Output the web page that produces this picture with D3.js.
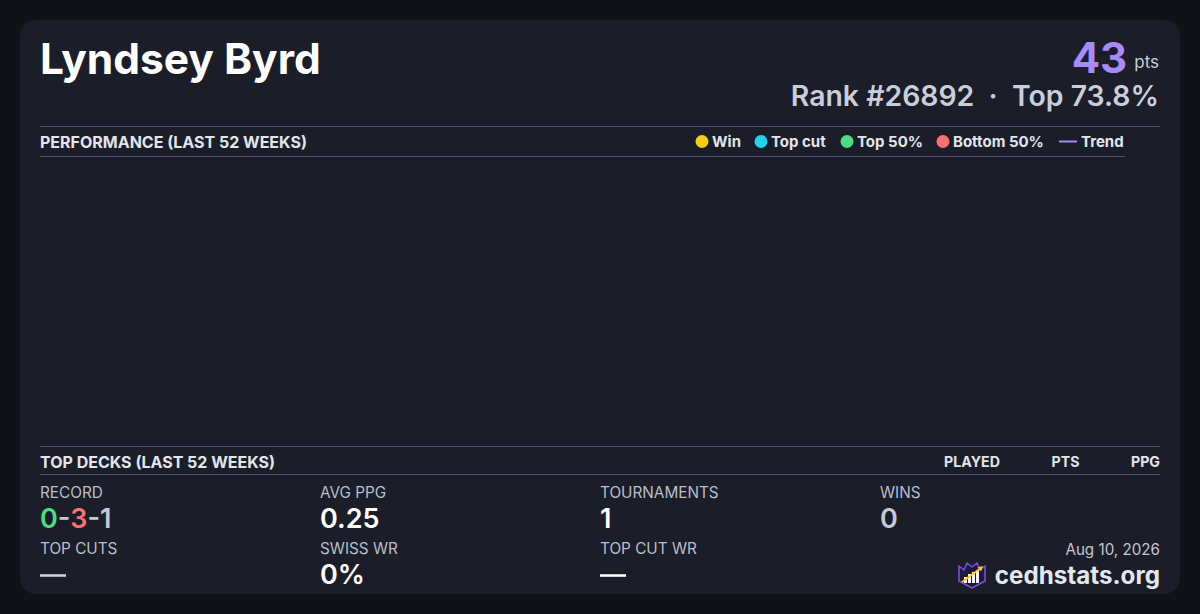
<!DOCTYPE html>
<html><head><meta charset="utf-8">
<script src="https://cdn.jsdelivr.net/npm/d3@7"></script>
<style>
html,body{margin:0;padding:0;background:#111218;}
svg{display:block;font-family:Inter,"Noto Sans",sans-serif;}
</style></head><body>
<svg id="c" width="1200" height="614"></svg>
<script>
// ---- data ----
const playerName = "Lyndsey Byrd";
const points = 43;
const rank = 26892;
const topPct = 73.8;
const legendLabels = ["Win", "Top cut", "Top 50%", "Bottom 50%", "Trend"];
const legendColors = ["#facc15", "#22d3ee", "#4ade80", "#f87171", "#a78bfa"];
const performanceWeeks = [];      // no results plotted in last 52 weeks
const deckColumns = ["PLAYED", "PTS", "PPG"];
const decks = [];
const statLabels = ["RECORD", "AVG PPG", "TOURNAMENTS", "WINS", "TOP CUTS", "SWISS WR", "TOP CUT WR"];
const statValues = ["0-3-1", "0.25", "1", "0", "—", "0%", "—"];
const recordParts = [0, 3, 1];
const dateLabel = "Aug 10, 2026";
const siteLabel = "cedhstats.org";

const svg = d3.select("#c");
svg.append("rect").attr("width",1200).attr("height",614).attr("fill","#111218");
svg.append("rect").attr("x",20).attr("y",20).attr("width",1160).attr("height",574).attr("rx",16).attr("fill","#1b1d29");

// header
svg.append("text").attr("x",40).attr("y",74).attr("fill","#ffffff").attr("font-size",42.5).attr("font-weight",700).text(playerName);
const ptsT = svg.append("text").attr("x",1159).attr("y",73).attr("text-anchor","end");
ptsT.append("tspan").attr("fill","#a78bfa").attr("font-size",42).attr("font-weight",700).text(points);
ptsT.append("tspan").attr("fill","#c9ceda").attr("font-size",17).attr("dx",7).attr("dy",-5).text("pts");
svg.append("text").attr("x",1159).attr("y",106).attr("text-anchor","end").attr("fill","#c9ceda")
  .attr("font-size",28.4).attr("font-weight",600)
  .text(`Rank #${rank}  ·  Top ${topPct}%`).attr("xml:space","preserve");

const lineCol = "#4a5670";
function hline(y,x1,x2){svg.append("line").attr("x1",x1).attr("x2",x2).attr("y1",y+0.5).attr("y2",y+0.5).attr("stroke",lineCol).attr("stroke-width",1);}
hline(126,40,1160);
svg.append("text").attr("x",40).attr("y",147.5).attr("fill","#e2e5ec").attr("font-size",16).attr("font-weight",700).text("PERFORMANCE (LAST 52 WEEKS)");
hline(156,40,1125);

// legend
const legendX = d3.scaleOrdinal().domain(legendLabels).range([702, 761, 847, 943, 1059]);
const color = d3.scaleOrdinal().domain(legendLabels).range(legendColors);
const lg = svg.append("g");
legendLabels.forEach(l=>{
  const x = legendX(l);
  if(l==="Trend"){
    lg.append("line").attr("x1",x).attr("x2",x+18).attr("y1",141.5).attr("y2",141.5).attr("stroke",color(l)).attr("stroke-width",2);
    lg.append("text").attr("x",x+22).attr("y",147).attr("fill","#e2e5ec").attr("font-size",15).attr("font-weight",700).text(l);
  } else {
    lg.append("circle").attr("cx",x).attr("cy",141.5).attr("r",6.5).attr("fill",color(l));
    lg.append("text").attr("x",x+10).attr("y",147).attr("fill","#e2e5ec").attr("font-size",15).attr("font-weight",700).text(l);
  }
});

// performance plot (empty)
const xs = d3.scaleLinear().domain([0,52]).range([40,1160]);
const ys = d3.scaleLinear().domain([0,1]).range([440,165]);
svg.append("g").selectAll("circle").data(performanceWeeks).join("circle")
  .attr("cx",d=>xs(d.week)).attr("cy",d=>ys(d.pct)).attr("r",5).attr("fill",d=>color(d.kind));

// top decks
hline(446,40,1160);
svg.append("text").attr("x",40).attr("y",467.5).attr("fill","#e2e5ec").attr("font-size",16).attr("font-weight",700).text("TOP DECKS (LAST 52 WEEKS)");
const colX = d3.scaleOrdinal().domain(deckColumns).range([1000,1079.5,1160]);
deckColumns.forEach(c=>{
  svg.append("text").attr("x",colX(c)).attr("y",467).attr("text-anchor","end").attr("fill","#e2e5ec").attr("font-size",14.2).attr("font-weight",700).text(c);
});
hline(474,40,1160);

// stats grid
const sx = d3.scaleBand().domain([0,1,2,3]).range([40,1160]);
statLabels.forEach((lab,i)=>{
  const col = i<4 ? i : i-4, row = i<4 ? 0 : 1;
  const x = sx(col), y0 = 497.5 + row*56;
  svg.append("text").attr("x",x).attr("y",y0).attr("fill","#b9bfcc").attr("font-size",15.3).text(lab);
  const vt = svg.append("text").attr("x",x).attr("y",y0+30.5).attr("font-size",27).attr("font-weight",600);
  const val = statValues[i];
  if(lab==="RECORD"){
    vt.append("tspan").attr("fill","#4ade80").text(recordParts[0]);
    vt.append("tspan").attr("fill","#c3c9d5").text("-");
    vt.append("tspan").attr("fill","#f87171").text(recordParts[1]);
    vt.append("tspan").attr("fill","#c3c9d5").text("-"+recordParts[2]);
  } else if(val==="—"){
    svg.append("line").attr("x1",x).attr("x2",x+26).attr("y1",y0+22).attr("y2",y0+22).attr("stroke",i===4?"#cfd4de":"#ffffff").attr("stroke-width",2.6);
  } else {
    vt.attr("fill", lab==="WINS" ? "#c3c9d5" : "#ffffff").text(val);
  }
});

// footer
svg.append("text").attr("x",1160).attr("y",554.5).attr("text-anchor","end").attr("fill","#c3c8d4").attr("font-size",15.2).text(dateLabel);
svg.append("text").attr("x",1160).attr("y",583.5).attr("text-anchor","end").attr("fill","#e5e7ee").attr("font-size",24.2).attr("font-weight",700).text(siteLabel);
// logo
const lgG = svg.append("g").attr("transform","translate(958,560)");
lgG.append("path").attr("d","M1,6 L6,10 L9,3 L14,7 L19,3 L22,10 L27,6 L27,21 L14,28 L1,21 Z").attr("fill","#1e1a33").attr("stroke","#7c4dde").attr("stroke-width",1.6).attr("stroke-linejoin","round");
[[6,17,3,6],[10,14,3,9],[14,12,3,11],[18,10,3,13]].forEach(b=>lgG.append("rect").attr("x",b[0]).attr("y",b[1]).attr("width",b[2]).attr("height",b[3]).attr("fill","#f3f4f6"));
lgG.append("line").attr("x1",4).attr("y1",22).attr("x2",23).attr("y2",8).attr("stroke","#facc15").attr("stroke-width",1.8);
lgG.append("path").attr("d","M25,6 L19.5,7.2 L23.2,11.2 Z").attr("fill","#facc15");
</script>
</body></html>
